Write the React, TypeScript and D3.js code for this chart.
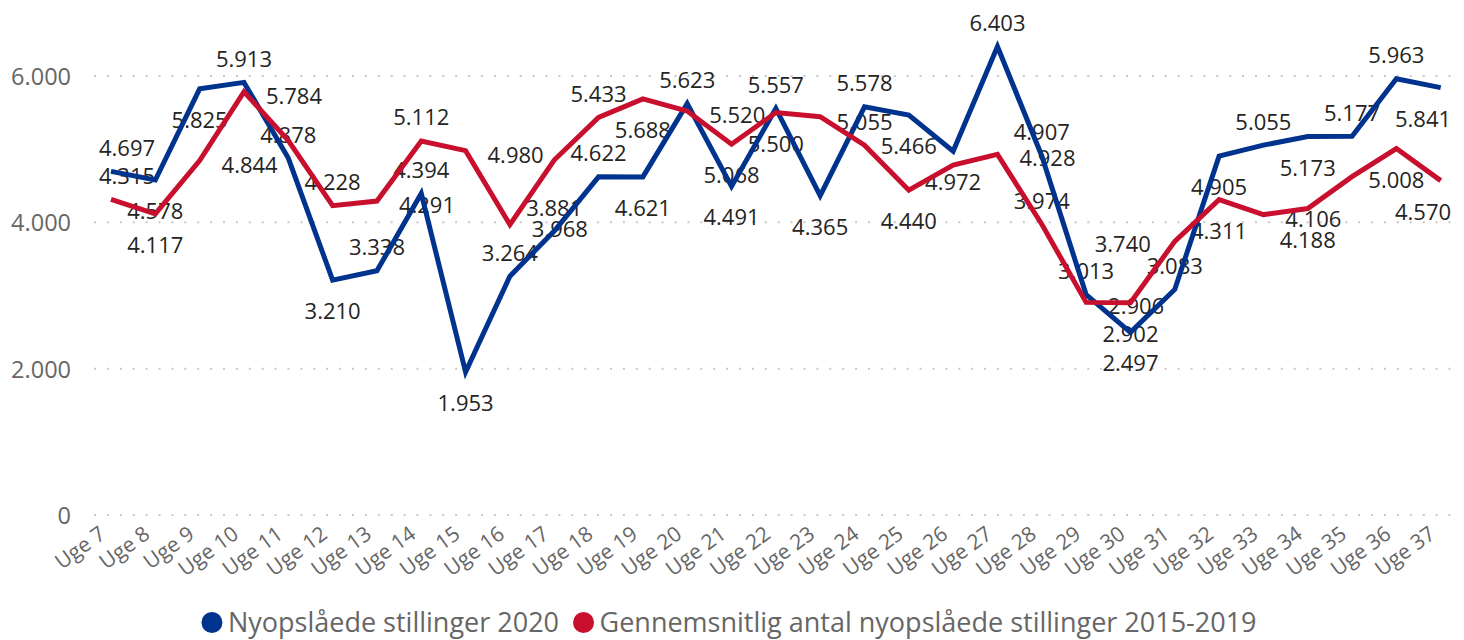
import React, { useEffect, useRef } from "react";
import * as d3 from "d3";

const weeks = [
  "Uge 7", "Uge 8", "Uge 9", "Uge 10", "Uge 11", "Uge 12", "Uge 13", "Uge 14",
  "Uge 15", "Uge 16", "Uge 17", "Uge 18", "Uge 19", "Uge 20", "Uge 21", "Uge 22",
  "Uge 23", "Uge 24", "Uge 25", "Uge 26", "Uge 27", "Uge 28", "Uge 29", "Uge 30",
  "Uge 31", "Uge 32", "Uge 33", "Uge 34", "Uge 35", "Uge 36", "Uge 37",
];

const series2020 = [
  4697, 4578, 5825, 5913, 4878, 3210, 3338, 4394, 1953, 3264, 3881, 4622, 4621, 5623, 4491, 5557,
  4365, 5578, 5466, 4972, 6403, 4907, 3013, 2497, 3083, 4905, 5055, 5173, 5177, 5963, 5841,
];

const seriesAvg = [
  4315, 4117, 4844, 5784, 5118, 4228, 4291, 5112, 4980, 3968, 4851, 5433, 5688, 5520, 5068, 5500,
  5443, 5055, 4440, 4783, 4928, 3974, 2906, 2902, 3740, 4311, 4106, 4188, 4624, 5008, 4570,
];

// label placement: a = above, b = below, r = right, l = left, h = hidden
const place2020 = [
  "a", "b", "b", "a", "a", "b", "a", "a", "b", "a", "a", "a", "b", "a", "b", "a",
  "b", "a", "b", "b", "a", "a", "a", "b", "a", "b", "a", "b", "a", "a", "b",
];
const placeAvg = [
  "a", "b", "r", "r", "h", "a", "r", "a", "r", "r", "h", "a", "b", "r", "b", "b",
  "h", "a", "b", "h", "r", "a", "r", "b", "l", "b", "r", "b", "h", "b", "b",
];

const yTicks = [0, 2000, 4000, 6000];

const seriesNames = [
  "Nyopslåede stillinger 2020",
  "Gennemsnitlig antal nyopslåede stillinger 2015-2019",
];
const colors = ["#00338D", "#C8102E"];

const W = 1464;
const H = 640;
const FONT = "'Open Sans', 'Noto Sans', sans-serif";

export default function App() {
  const ref = useRef<SVGSVGElement | null>(null);

  useEffect(() => {
    const svg = d3.select(ref.current);
    svg.selectAll("*").remove();

    const locale = d3.formatLocale({ decimal: ",", thousands: ".", grouping: [3], currency: ["", " kr."] });
    const fmt = locale.format(",d");

    const x = d3.scalePoint<string>().domain(weeks).range([111, 1440.7]);
    const y = d3.scaleLinear().domain([0, 6000]).range([515, 76]);

    // grid
    const grid = svg.append("g");
    yTicks.forEach((t) => {
      grid.append("line")
        .attr("x1", 94).attr("x2", 1456)
        .attr("y1", y(t)).attr("y2", y(t))
        .attr("stroke", "#c8c8c8").attr("stroke-width", 2)
        .attr("stroke-dasharray", "2 10.9");
      grid.append("text")
        .attr("x", 71).attr("y", y(t))
        .attr("text-anchor", "end").attr("dominant-baseline", "central")
        .attr("font-family", FONT).attr("font-size", 23.5).attr("fill", "#666666")
        .text(fmt(t));
    });

    // x axis labels
    const xa = svg.append("g");
    weeks.forEach((w) => {
      xa.append("text")
        .attr("transform", `translate(${(x(w) as number) - 4},537) rotate(-36)`)
        .attr("text-anchor", "end")
        .attr("font-family", FONT).attr("font-size", 21).attr("fill", "#666666")
        .text(w);
    });

    // data labels
    const labels = svg.append("g");
    const offsets: Record<string, [number, number]> = {
      a: [0, -24.5], b: [0, 30], r: [50, 3], l: [-52, 2],
    };
    const drawLabels = (vals: number[], places: string[]) => {
      vals.forEach((v, i) => {
        const p = places[i];
        if (p === "h") return;
        const [dx, dy] = offsets[p];
        let cx = (x(weeks[i]) as number) + dx;
        cx = Math.max(127, Math.min(1423, cx));
        labels.append("text")
          .attr("x", cx).attr("y", y(v) + dy)
          .attr("text-anchor", "middle").attr("dominant-baseline", "central")
          .attr("font-family", FONT).attr("font-size", 22).attr("fill", "#252423")
          .text(fmt(v));
      });
    };
    drawLabels(series2020, place2020);
    drawLabels(seriesAvg, placeAvg);

    // lines
    const line = d3.line<number>()
      .x((_, i) => x(weeks[i]) as number)
      .y((d) => y(d));
    [series2020, seriesAvg].forEach((s, k) => {
      svg.append("path")
        .datum(s)
        .attr("d", line)
        .attr("fill", "none")
        .attr("stroke", colors[k])
        .attr("stroke-width", 5)
        .attr("stroke-linejoin", "miter");
    });

    // legend
    const lg = svg.append("g");
    const r = 10.5;
    let cursor = 0;
    seriesNames.forEach((name, k) => {
      const g = lg.append("g");
      g.append("circle").attr("cx", cursor + r).attr("cy", 622.5).attr("r", r).attr("fill", colors[k]);
      const t = g.append("text")
        .attr("x", cursor + 2 * r + 5.5).attr("y", 632)
        .attr("font-family", FONT).attr("font-size", 27).attr("fill", "#666666")
        .text(name);
      const tw = (t.node() as SVGTextElement).getComputedTextLength();
      cursor += 2 * r + 5.5 + tw + 14;
    });
    const total = cursor - 14;
    lg.attr("transform", `translate(${729 - total / 2},0)`);
  }, []);

  return (
    <div style={{ position: "absolute", left: 0, top: 0 }}>
      <svg ref={ref} width={W} height={H} style={{ display: "block", background: "#fff" }} />
    </div>
  );
}
